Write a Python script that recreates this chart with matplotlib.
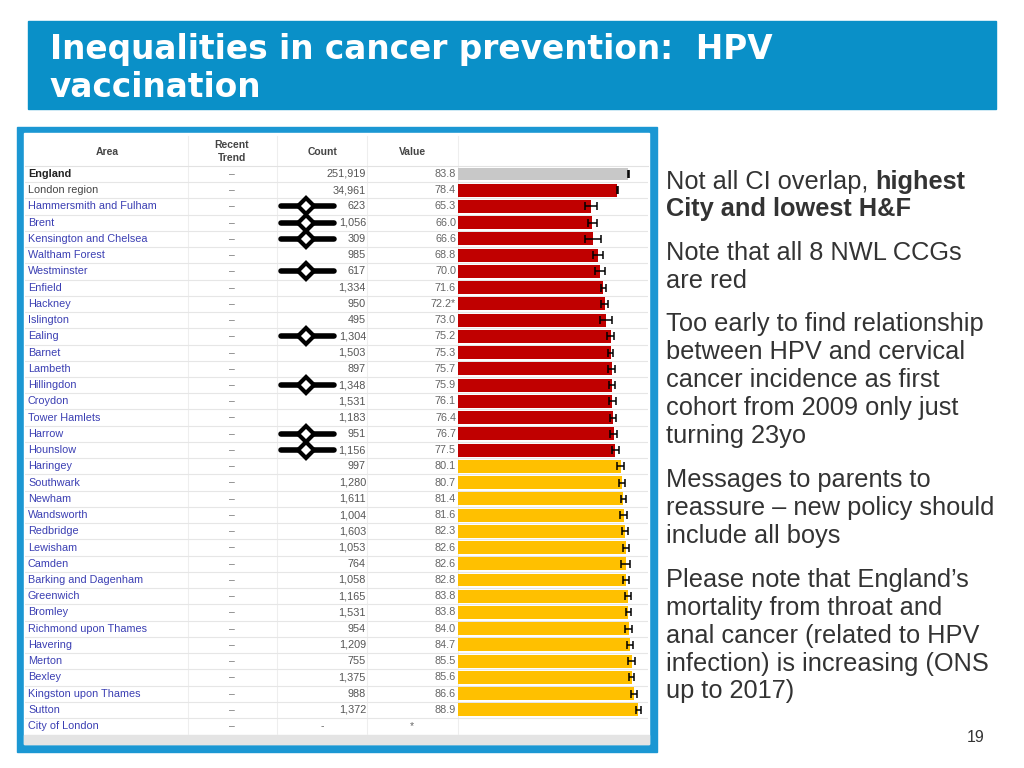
import matplotlib
matplotlib.use("Agg")
import matplotlib.pyplot as plt
from matplotlib.patches import Rectangle
import numpy as np

plt.rcParams['font.family'] = ['Liberation Sans', 'DejaVu Sans']

# ---------------- data ----------------
areas = ["England", "London region", "Hammersmith and Fulham", "Brent",
         "Kensington and Chelsea", "Waltham Forest", "Westminster", "Enfield",
         "Hackney", "Islington", "Ealing", "Barnet", "Lambeth", "Hillingdon",
         "Croydon", "Tower Hamlets", "Harrow", "Hounslow", "Haringey",
         "Southwark", "Newham", "Wandsworth", "Redbridge", "Lewisham", "Camden",
         "Barking and Dagenham", "Greenwich", "Bromley", "Richmond upon Thames",
         "Havering", "Merton", "Bexley", "Kingston upon Thames", "Sutton",
         "City of London"]
counts = ["251,919", "34,961", "623", "1,056", "309", "985", "617", "1,334",
          "950", "495", "1,304", "1,503", "897", "1,348", "1,531", "1,183",
          "951", "1,156", "997", "1,280", "1,611", "1,004", "1,603", "1,053",
          "764", "1,058", "1,165", "1,531", "954", "1,209", "755", "1,375",
          "988", "1,372", "-"]
values = [83.8, 78.4, 65.3, 66.0, 66.6, 68.8, 70.0, 71.6, 72.2, 73.0, 75.2,
          75.3, 75.7, 75.9, 76.1, 76.4, 76.7, 77.5, 80.1, 80.7, 81.4, 81.6,
          82.3, 82.6, 82.6, 82.8, 83.8, 83.8, 84.0, 84.7, 85.5, 85.6, 86.6,
          88.9, np.nan]
value_labels = ["83.8", "78.4", "65.3", "66.0", "66.6", "68.8", "70.0", "71.6",
                "72.2*", "73.0", "75.2", "75.3", "75.7", "75.9", "76.1", "76.4",
                "76.7", "77.5", "80.1", "80.7", "81.4", "81.6", "82.3", "82.6",
                "82.6", "82.8", "83.8", "83.8", "84.0", "84.7", "85.5", "85.6",
                "86.6", "88.9", "*"]
ci_lower = [83.6, 78.2, 62.6, 63.9, 62.6, 66.5, 67.6, 70.3, 70.5, 70.0, 73.6,
            74.0, 74.0, 74.3, 74.6, 74.8, 75.0, 75.9, 78.3, 79.2, 80.1, 80.0,
            81.0, 81.1, 80.5, 81.3, 82.3, 82.6, 82.4, 83.3, 83.8, 84.3, 85.1,
            87.7, np.nan]
ci_upper = [84.0, 78.6, 68.3, 68.3, 70.6, 71.3, 72.5, 73.0, 74.0, 76.0, 76.8,
            76.6, 77.4, 77.5, 77.6, 78.0, 78.4, 79.1, 81.9, 82.2, 82.7, 83.2,
            83.6, 84.1, 84.7, 84.3, 85.3, 85.0, 85.6, 86.1, 87.2, 86.9, 88.1,
            90.1, np.nan]
status = (["benchmark"] + ["lower"] * 17 + ["similar"] * 16 + ["none"])
nwl_ccgs = ["Hammersmith and Fulham", "Brent", "Kensington and Chelsea",
            "Westminster", "Ealing", "Hillingdon", "Harrow", "Hounslow"]

status_colors = {"benchmark": "#C8C8C8", "lower": "#C00000",
                 "similar": "#FFC000", "none": "none"}

title_lines = ["Inequalities in cancer prevention:  HPV", "vaccination"]

# ---------------- layout ----------------
W, H = 1024, 768
fig = plt.figure(figsize=(W / 100, H / 100), dpi=100)
fig.patch.set_facecolor("white")

bg = fig.add_axes([0, 0, 1, 1])
bg.set_xlim(0, W)
bg.set_ylim(H, 0)
bg.axis("off")

BLUE = "#0A90C8"
FRAME = "#1B97D3"
# title banner
bg.add_patch(Rectangle((28, 21), 968, 88, color=BLUE, zorder=1))
for yy, s in zip([58.5, 97], title_lines):
    bg.text(50, yy, s, color="white", fontsize=23.6, fontweight="bold",
            family="DejaVu Sans", va="baseline", ha="left", zorder=2)

# table frame
bg.add_patch(Rectangle((17, 127), 640, 625, color=FRAME, zorder=1))
bg.add_patch(Rectangle((24, 133), 625, 611, color="white", zorder=1.5))
bg.add_patch(Rectangle((24, 735), 625, 9, color="#E4E4E4", zorder=1.6))

# header
hdr_col = "#444444"
for (hx, hy, s) in [(107, 152, "Area"), (232, 145, "Recent"),
                    (232, 158, "Trend"), (323, 152, "Count"),
                    (412, 152, "Value")]:
    bg.text(hx, hy, s, ha="center", va="center", fontsize=7.5,
            fontweight="bold", color=hdr_col, zorder=3)
for xv in [188, 277, 367, 458]:
    bg.plot([xv, xv], [136, 734], color="#EEEEEE", lw=0.8, zorder=2)
bg.plot([25, 648], [166, 166], color="#E2E2E2", lw=0.8, zorder=2)

# rows axes
row_top, row_h = 174 - 16.24 / 2, 16.24
n = len(areas)
row_bottom = row_top + n * row_h
fb = 1 - row_bottom / H
fh = (row_bottom - row_top) / H

tab = fig.add_axes([25 / W, fb, (458 - 25) / W, fh])
tab.set_xlim(25, 458)
tab.set_ylim(n - 0.5, -0.5)
tab.axis("off")
tab.patch.set_alpha(0)

bar_px = 2.03
barax = fig.add_axes([458 / W, fb, (648 - 458) / W, fh])
barax.set_xlim(0, (648 - 458) / bar_px)
barax.set_ylim(n - 0.5, -0.5)
barax.axis("off")
barax.patch.set_alpha(0)

y = np.arange(n)
for yy in np.arange(n - 1) + 0.5:
    tab.plot([25, 458], [yy, yy], color="#E6E6E6", lw=0.8, zorder=1)
    barax.axhline(yy, color="#E6E6E6", lw=0.8, zorder=1)

link_col = "#3B3FB3"
for i, (a, c, vl, st) in enumerate(zip(areas, counts, value_labels, status)):
    if a == "England":
        tab.text(28, i, a, ha="left", va="center", fontsize=7.8,
                 fontweight="bold", color="#222222")
    elif a == "London region":
        tab.text(28, i, a, ha="left", va="center", fontsize=7.8, color="#444444")
    else:
        tab.text(28, i, a, ha="left", va="center", fontsize=7.8, color=link_col)
    tab.text(232, i, "\u2013", ha="center", va="center", fontsize=7.5,
             color="#777777")
    if st == "none":
        tab.text(322, i, c, ha="center", va="center", fontsize=7.5, color="#666666")
        tab.text(412, i, vl, ha="center", va="center", fontsize=7.5, color="#666666")
    else:
        tab.text(366, i, c, ha="right", va="center", fontsize=7.8, color="#555555")
        tab.text(456, i, vl, ha="right", va="center", fontsize=7.8, color="#666666")

# NWL CCG markers
for a in nwl_ccgs:
    i = areas.index(a)
    tab.plot([281, 334], [i, i], color="black", lw=4, solid_capstyle="round",
             zorder=4)
    tab.plot([306], [i], marker="D", markersize=8.5, markerfacecolor="white",
             markeredgecolor="black", markeredgewidth=3, zorder=5)

# bars
vals = np.array(values, dtype=float)
lo = np.array(ci_lower, dtype=float)
hi = np.array(ci_upper, dtype=float)
mask = ~np.isnan(vals)
barax.barh(y[mask], vals[mask], height=0.8,
           color=[status_colors[s] for s, m in zip(status, mask) if m],
           zorder=2)
barax.errorbar(vals[mask], y[mask],
               xerr=[vals[mask] - lo[mask], hi[mask] - vals[mask]],
               fmt="none", ecolor="black", elinewidth=1.1, capsize=3,
               capthick=1.1, zorder=3)

# right-hand notes
TX = "#333333"
FS = 18.3
rend = fig.canvas.get_renderer()
t1 = bg.text(666, 188.5, "Not all CI overlap, ", fontsize=FS, color=TX,
             va="baseline", ha="left")
bb = t1.get_window_extent(renderer=rend)
bg.text(bb.x1, 188.5, "highest", fontsize=FS, color=TX, fontweight="bold",
        va="baseline", ha="left")
bg.text(666, 216, "City and lowest H&F", fontsize=FS, color=TX,
        fontweight="bold", va="baseline", ha="left")

notes = [
    (260, "Note that all 8 NWL CCGs"),
    (287.5, "are red"),
    (331.5, "Too early to find relationship"),
    (359.3, "between HPV and cervical"),
    (387.1, "cancer incidence as first"),
    (414.9, "cohort from 2009 only just"),
    (442.5, "turning 23yo"),
    (487.3, "Messages to parents to"),
    (515, "reassure \u2013 new policy should"),
    (542.7, "include all boys"),
    (587.3, "Please note that England\u2019s"),
    (615, "mortality from throat and"),
    (642.7, "anal cancer (related to HPV"),
    (670.5, "infection) is increasing (ONS"),
    (698.3, "up to 2017)"),
]
for yy, s in notes:
    bg.text(666, yy, s, fontsize=FS, color=TX, va="baseline", ha="left")

bg.text(984, 741.5, "19", fontsize=11.5, color=TX, va="baseline", ha="right")

fig.savefig("out.png", dpi=100)
